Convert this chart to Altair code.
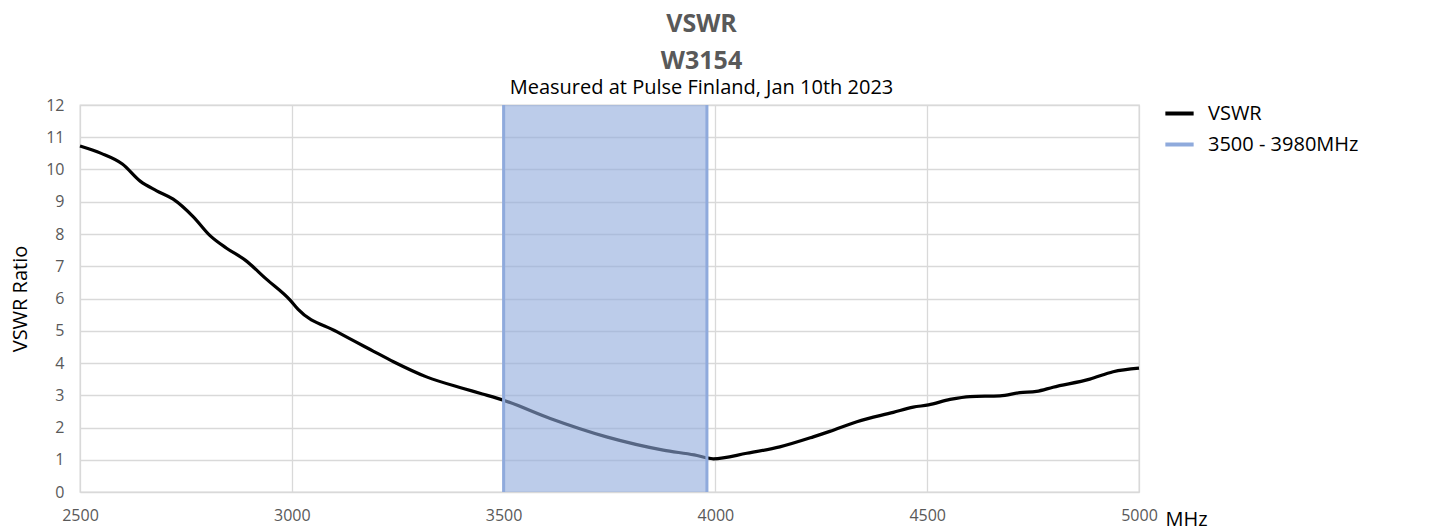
import altair as alt
import pandas as pd

freq = [2500, 2550, 2600, 2642, 2681, 2720, 2767, 2807, 2846, 2890, 2940, 2996,
        3015, 3106, 3192, 3240, 3318, 3405, 3450, 3503, 3610, 3743, 3877, 3950,
        3995, 4074, 4152, 4231, 4270, 4334, 4420, 4467, 4503, 4554, 4601, 4672,
        4719, 4758, 4797, 4884, 4939, 5000]
vswr = [10.73, 10.50, 10.17, 9.64, 9.34, 9.08, 8.54, 7.95, 7.56, 7.19, 6.60, 5.95,
        5.66, 4.97, 4.37, 4.04, 3.57, 3.21, 3.04, 2.83, 2.28, 1.71, 1.30, 1.15,
        1.03, 1.20, 1.40, 1.71, 1.88, 2.18, 2.47, 2.63, 2.70, 2.87, 2.96, 2.98,
        3.08, 3.12, 3.25, 3.50, 3.73, 3.84]
band_start = 3500
band_end = 3980
series_names = ["VSWR", "3500 - 3980MHz"]
series_colors = ["#000000", "#8faadc"]
x_ticks = [2500, 3000, 3500, 4000, 4500, 5000]
y_ticks = list(range(0, 13))

curve = pd.DataFrame({"freq": freq, "vswr": vswr, "series": series_names[0]})
band = pd.DataFrame({"start": [band_start], "end": [band_end]})
edges = pd.DataFrame({"freq": [band_start, band_end], "series": series_names[1]})

FONT = "Open Sans"
color = alt.Color("series:N",
                  scale=alt.Scale(domain=series_names, range=series_colors),
                  legend=alt.Legend(title=None, orient="none", legendX=1083, legendY=-8,
                                    symbolType="stroke", symbolSize=800,
                                    symbolStrokeWidth=4, labelFontSize=20,
                                    labelFont=FONT, labelColor="#000000",
                                    rowPadding=4, labelOffset=12))

xscale = alt.Scale(domain=[2500, 5000], nice=False, zero=False)
yscale = alt.Scale(domain=[0, 12], nice=False)

xaxis = alt.Axis(values=x_ticks, format="d", title="MHz", titleAngle=0, titleAlign="left",
                 titleBaseline="middle", titleX=1085, titleY=27, titleFontSize=20,
                 titleFontWeight="normal", titleColor="#000000", titleFont=FONT,
                 labelFont=FONT, labelFontSize=16, labelColor="#595959",
                 labelPadding=15, ticks=False, domain=False, grid=True,
                 gridColor="#d9d9d9", gridWidth=1.3, labelFlush=False)
yaxis = alt.Axis(values=y_ticks, title="VSWR Ratio", titleFont=FONT, titleFontSize=20,
                 titleFontWeight="normal", titleColor="#000000", titlePadding=15,
                 labelFont=FONT, labelFontSize=16, labelColor="#595959",
                 labelPadding=16, ticks=False, domain=False, grid=True,
                 gridColor="#d9d9d9", gridWidth=1.3)

line = alt.Chart(curve).mark_line(strokeWidth=3.2, interpolate="monotone").encode(
    x=alt.X("freq:Q", scale=xscale, axis=xaxis),
    y=alt.Y("vswr:Q", scale=yscale, axis=yaxis),
    color=color,
)

rect = alt.Chart(band).mark_rect(color="#8faadc", opacity=0.6).encode(
    x=alt.X("start:Q", scale=xscale),
    x2="end:Q",
    y=alt.value(0),
    y2=alt.value(387),
)

rules = alt.Chart(edges).mark_rule(strokeWidth=3).encode(
    x=alt.X("freq:Q", scale=xscale),
    color=color,
)

chart = alt.layer(line, rect, rules).properties(
    width=1059, height=387,
    title=alt.TitleParams(
        text=["VSWR", "W3154"],
        subtitle="Measured at Pulse Finland, Jan 10th 2023",
        anchor="middle", dx=92, offset=-1,
        font=FONT, fontSize=25, fontWeight="bold", color="#595959",
        lineHeight=37, subtitleFont=FONT, subtitleFontSize=20,
        subtitleColor="#000000", subtitlePadding=4,
    ),
    autosize=alt.AutoSizeParams(type="none"),
    padding={"left": 72, "top": 97, "right": 280, "bottom": 40},
).configure_view(stroke="#d9d9d9", strokeWidth=1.3)

chart.save("out.html", embed_options={"renderer": "svg", "actions": False})
